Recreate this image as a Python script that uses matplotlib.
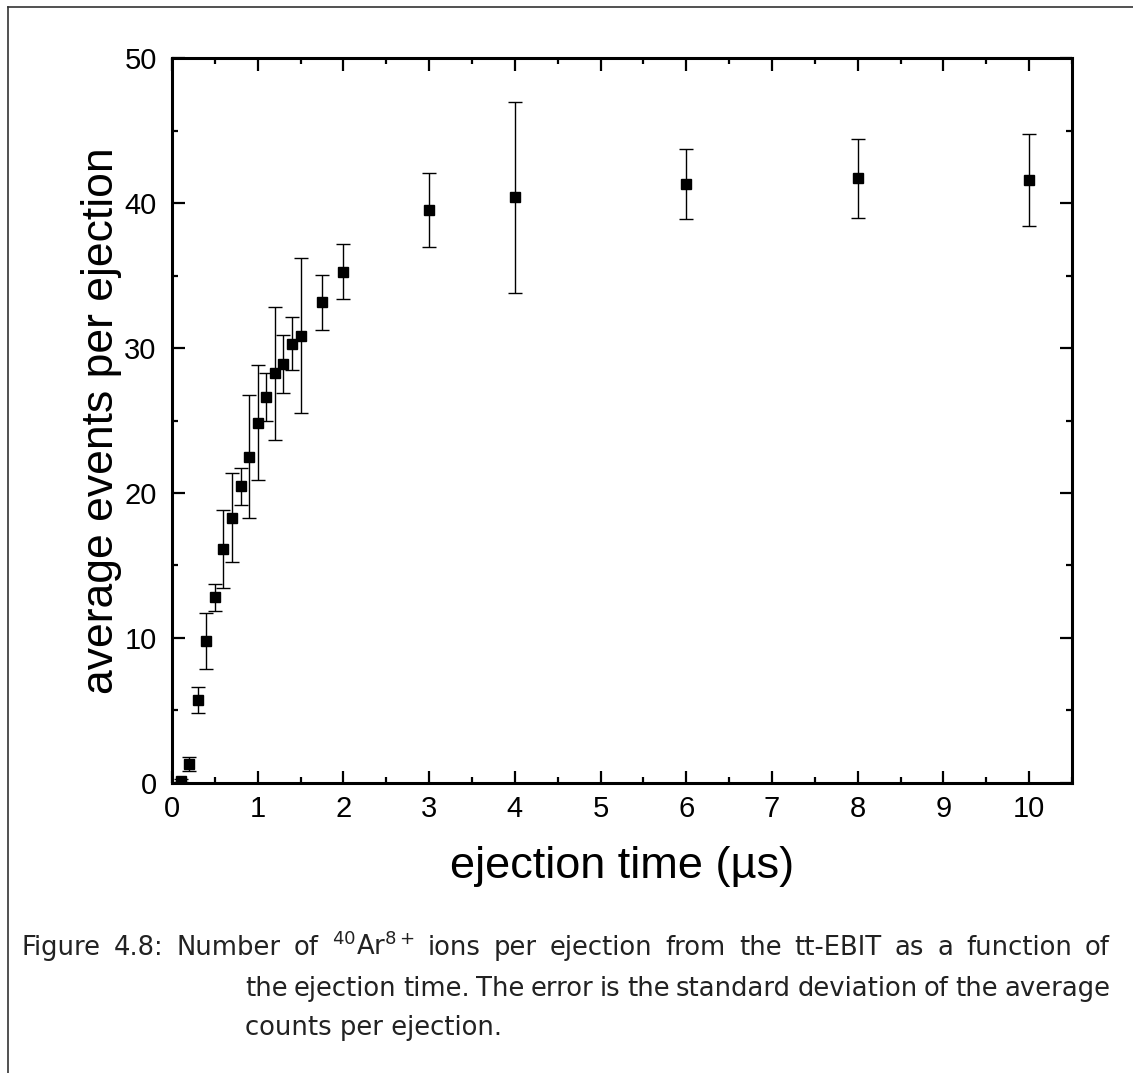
import numpy as np
import matplotlib.pyplot as plt
from matplotlib.lines import Line2D
from matplotlib.ticker import MultipleLocator

t = [0.1, 0.2, 0.3, 0.4, 0.5, 0.6, 0.7, 0.8, 0.9, 1.0, 1.1, 1.2, 1.3, 1.4, 1.5, 1.75, 2.0,
     3.0, 4.0, 6.0, 8.0, 10.0]
events = [0.15, 1.3, 5.7, 9.8, 12.8, 16.15, 18.3, 20.45, 22.5, 24.85, 26.6, 28.25, 28.9,
          30.3, 30.85, 33.15, 35.25, 39.5, 40.4, 41.3, 41.7, 41.6]
err = [0.1, 0.5, 0.9, 1.95, 0.95, 2.7, 3.05, 1.3, 4.25, 3.95, 1.65, 4.6, 2.0,
       1.85, 5.35, 1.9, 1.9, 2.55, 6.6, 2.4, 2.75, 3.15]

plt.rcParams['font.family'] = ['Liberation Sans', 'DejaVu Sans']
plt.rcParams['mathtext.fontset'] = 'custom'
plt.rcParams['mathtext.rm'] = 'DejaVu Sans'

fig = plt.figure(figsize=(11.33, 10.73), dpi=100)
ax = fig.add_axes([0.1518, 0.2703, 0.7944, 0.6756])

ax.errorbar(t, events, yerr=err, fmt='s', color='black', ms=6.5, elinewidth=1,
            capsize=5, capthick=1, ecolor='black')

ax.set_xlim(0, 10.5)
ax.set_ylim(0, 50)
ax.xaxis.set_major_locator(MultipleLocator(1))
ax.xaxis.set_minor_locator(MultipleLocator(0.5))
ax.yaxis.set_major_locator(MultipleLocator(10))
ax.yaxis.set_minor_locator(MultipleLocator(5))
ax.tick_params(which='both', direction='in', top=True, right=True, width=1.6, labelsize=21)
ax.tick_params(which='major', length=9)
ax.tick_params(which='minor', length=4.5)
ax.tick_params(axis='x', pad=9)
ax.tick_params(axis='y', pad=11)
for s in ax.spines.values():
    s.set_linewidth(2.2)

ax.set_xlabel('ejection time (µs)', fontsize=32.5, labelpad=16)
ax.set_ylabel('average events per ejection', fontsize=32, labelpad=2)

# page frame (top and left edges)
fig.add_artist(Line2D([0.007, 1.0], [0.9935, 0.9935], color='#333333', lw=1.2))
fig.add_artist(Line2D([0.007, 0.007], [0.0, 0.9935], color='#333333', lw=1.2))

# caption, justified like the thesis page
W, H = 1133, 1073
lines = [r'Figure 4.8: Number of $^{40}$Ar$^{8+}$ ions per ejection from the tt-EBIT as a function of',
         'the ejection time.  The error is the standard deviation of the average',
         'counts per ejection.']
x0 = [22, 245, 245]
x1 = [1110, 1110, None]
ys = [955, 996, 1035]
r = fig.canvas.get_renderer()

# size so that the second line roughly fits (spaces get squeezed a little)
probe = fig.text(0, 0, lines[1], fontsize=20, family='DejaVu Sans')
size = 1.03 * 20 * (x1[1] - x0[1]) / probe.get_window_extent(r).width
probe.remove()

for s, a, b, y in zip(lines, x0, x1, ys):
    if b is None:
        fig.text(a / W, 1 - y / H, s, fontsize=size, family='DejaVu Sans',
                 color='#222222', va='baseline')
        continue
    words = s.split()
    tw = [fig.text(0, 1 - y / H, wd, fontsize=size, family='DejaVu Sans',
                   color='#222222', va='baseline') for wd in words]
    ww = [tx.get_window_extent(r).width for tx in tw]
    gap = (b - a - sum(ww)) / (len(words) - 1)
    pos = a
    for tx, w in zip(tw, ww):
        tx.set_x(pos / W)
        pos += w + gap

fig.savefig('out.png', dpi=100)
